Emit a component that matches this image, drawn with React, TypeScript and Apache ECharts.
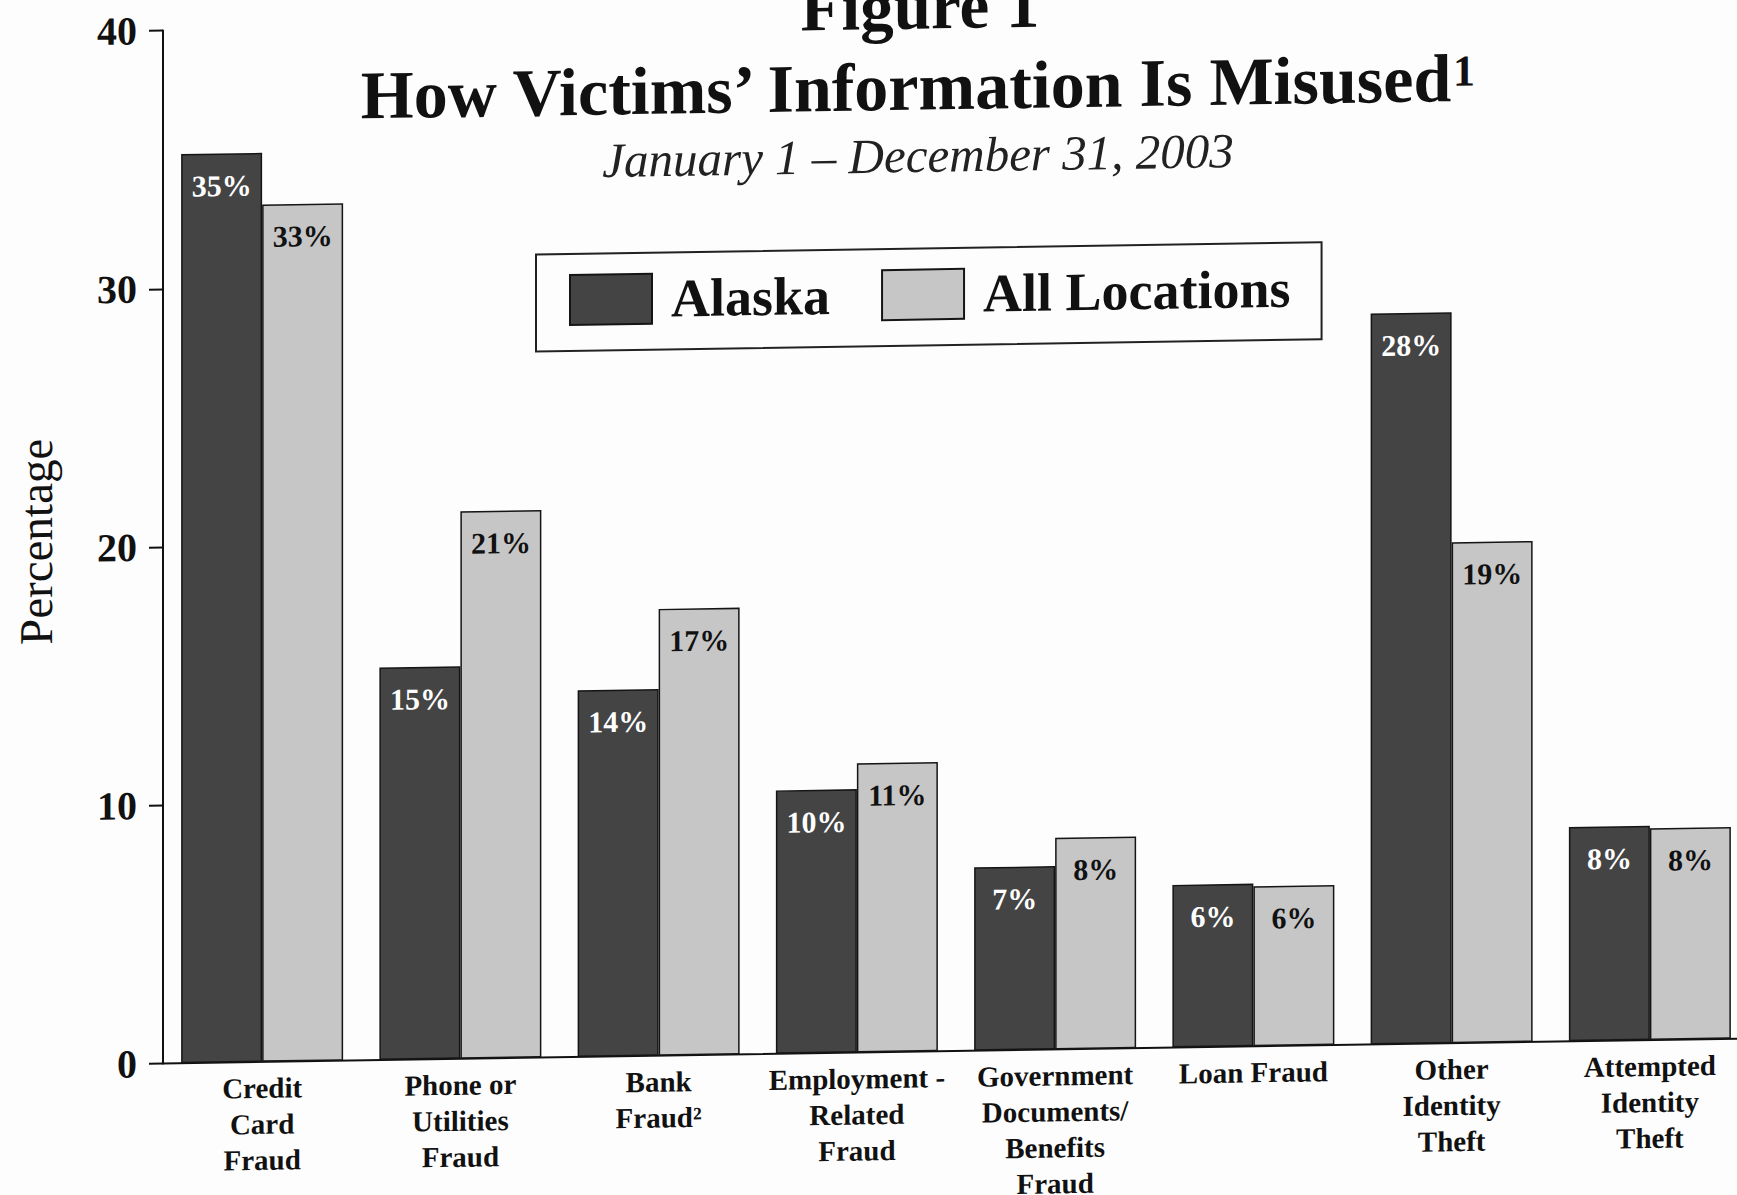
import React, { useEffect, useRef } from "react";
import * as echarts from "echarts";

const categories = [
  "Credit\nCard\nFraud",
  "Phone or\nUtilities\nFraud",
  "Bank\nFraud²",
  "Employment -\nRelated\nFraud",
  "Government\nDocuments/\nBenefits\nFraud",
  "Loan Fraud",
  "Other\nIdentity\nTheft",
  "Attempted\nIdentity\nTheft",
];
const seriesNames = ["Alaska", "All Locations"];
const alaskaValues = [35.2, 15.2, 14.2, 10.2, 7.1, 6.3, 28.3, 8.3];
const allLocationsValues = [33.2, 21.2, 17.3, 11.2, 8.2, 6.2, 19.4, 8.2];
const yTicks = [0, 10, 20, 30, 40];

const titleFigure = "Figure 1";
const titleMain = "How Victims’ Information Is Misused";
const titleSup = "1";
const subtitle = "January 1 – December 31, 2003";
const yAxisName = "Percentage";

const SERIF = '"Liberation Serif", "Times New Roman", Times, serif';

export default function App() {
  const ref = useRef<HTMLDivElement>(null);

  useEffect(() => {
    if (!ref.current) return;
    const chart = echarts.init(ref.current, undefined, { renderer: "svg" });
    const labelFmt = (p: any) => Math.round(p.value) + "%";
    const option: any = {
      animation: false,
      backgroundColor: "#fdfdfd",
      textStyle: { fontFamily: SERIF },
      grid: {
        left: 163,
        top: 33,
        width: 1586,
        height: 1033,
        containLabel: false,
        outerBoundsMode: "none",
      },
      legend: {
        data: seriesNames,
        left: 536,
        top: 263,
        orient: "horizontal",
        icon: "rect",
        itemWidth: 82,
        itemHeight: 50,
        itemGap: 51,
        padding: [19, 31, 24, 33],
        borderColor: "#222",
        borderWidth: 2,
        textStyle: {
          fontFamily: SERIF,
          fontSize: 54,
          fontWeight: "bold",
          color: "#111",
          padding: [0, 0, 0, 14],
        },
      },
      xAxis: {
        type: "category",
        data: categories,
        axisLine: { lineStyle: { color: "#111", width: 2 } },
        axisTick: { show: false },
        axisLabel: {
          interval: 0,
          margin: 8,
          fontFamily: SERIF,
          fontSize: 29,
          fontWeight: "bold",
          lineHeight: 36,
          color: "#111",
        },
      },
      yAxis: {
        type: "value",
        min: yTicks[0],
        max: yTicks[yTicks.length - 1],
        interval: 10,
        name: yAxisName,
        nameLocation: "middle",
        nameGap: 104,
        nameTextStyle: {
          fontFamily: SERIF,
          fontSize: 47,
          color: "#111",
          padding: [0, 0, 0, 14],
        },
        axisLine: { show: true, lineStyle: { color: "#111", width: 2 } },
        axisTick: { show: true, length: 14, lineStyle: { color: "#111", width: 2 } },
        splitLine: { show: false },
        axisLabel: {
          margin: 26,
          fontFamily: SERIF,
          fontSize: 40,
          fontWeight: "bold",
          color: "#111",
        },
      },
      series: [
        {
          name: seriesNames[0],
          type: "bar",
          data: alaskaValues,
          barWidth: 81,
          barGap: "0%",
          itemStyle: { color: "#444444", borderColor: "#151515", borderWidth: 1.5 },
          label: {
            show: true,
            position: "insideTop",
            distance: 17,
            formatter: labelFmt,
            fontFamily: SERIF,
            fontSize: 30,
            fontWeight: "bold",
            color: "#fff",
          },
        },
        {
          name: seriesNames[1],
          type: "bar",
          data: allLocationsValues,
          barWidth: 81,
          barGap: "0%",
          itemStyle: { color: "#c6c6c6", borderColor: "#151515", borderWidth: 1.5 },
          label: {
            show: true,
            position: "insideTop",
            distance: 17,
            formatter: labelFmt,
            fontFamily: SERIF,
            fontSize: 30,
            fontWeight: "bold",
            color: "#111",
          },
        },
      ],
      graphic: [
        {
          type: "text",
          x: 920,
          y: 20,
          style: {
            text: titleFigure,
            fill: "#111",
            font: `bold 67px ${SERIF}`,
            textAlign: "center",
            textVerticalAlign: "middle",
          },
        },
        {
          type: "text",
          x: 906,
          y: 101,
          style: {
            text: titleMain,
            fill: "#111",
            font: `bold 68px ${SERIF}`,
            textAlign: "center",
            textVerticalAlign: "middle",
          },
        },
        {
          type: "text",
          x: 1453,
          y: 94,
          style: {
            text: titleSup,
            fill: "#111",
            font: `bold 44px ${SERIF}`,
            textAlign: "left",
            textVerticalAlign: "middle",
          },
        },
        {
          type: "text",
          x: 918,
          y: 170,
          style: {
            text: subtitle,
            fill: "#222",
            font: `italic 49px ${SERIF}`,
            textAlign: "center",
            textVerticalAlign: "middle",
          },
        },
      ],
    };
    chart.setOption(option);
    return () => chart.dispose();
  }, []);

  return (
    <div
      style={{
        position: "absolute",
        left: 0,
        top: 0,
        width: 1737,
        height: 1195,
        overflow: "hidden",
        background: "#fdfdfd",
      }}
    >
      <div
        ref={ref}
        style={{
          position: "absolute",
          left: 0,
          top: 0,
          width: 1737,
          height: 1240,
          transform: "skewY(-0.9deg)",
          transformOrigin: "0 0",
        }}
      />
    </div>
  );
}
